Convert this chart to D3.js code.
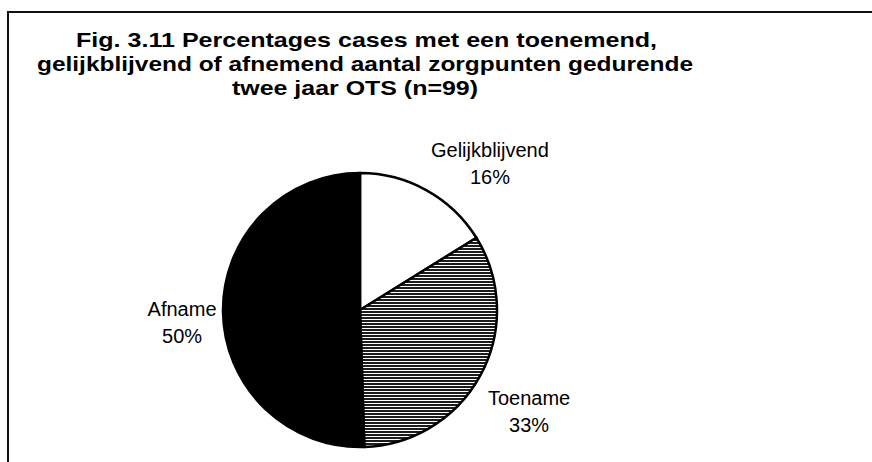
<!DOCTYPE html>
<html>
<head>
<meta charset="utf-8">
<script src="https://cdn.jsdelivr.net/npm/d3@7"></script>
<style>
  html, body { margin: 0; padding: 0; background: white; }
  text { font-family: "Liberation Sans", Arial, Helvetica, sans-serif; }
</style>
</head>
<body>
<div id="chart"></div>
<script>
// data (n = 99)
const categories = ["Gelijkblijvend", "Toename", "Afname"];
const counts = [16, 33, 50];
const pctLabels = ["16%", "33%", "50%"];
const titleLines = [
  "Fig. 3.11 Percentages cases met een toenemend,",
  "gelijkblijvend of afnemend aantal zorgpunten gedurende",
  "twee jaar OTS (n=99)"
];

const w = 872;
const h = 462;
const cx = 360, cy = 310, r = 137;

const svg = d3
  .select("#chart")
  .append("svg")
  .attr("width", w)
  .attr("height", h)
  .style("display", "block")
  .style("background", "white");

// hatched fill for the "Toename" slice
const defs = svg.append("defs");
const pat = defs
  .append("pattern")
  .attr("id", "hatch")
  .attr("patternUnits", "userSpaceOnUse")
  .attr("width", 6)
  .attr("height", 3);
pat.append("rect").attr("width", 6).attr("height", 3).attr("fill", "#fff");
pat.append("rect").attr("y", 1).attr("width", 6).attr("height", 2).attr("fill", "#1c1c1c");

// frame (top and left edge only, as in the scan)
svg.append("line")
  .attr("x1", 7).attr("x2", w).attr("y1", 12).attr("y2", 12)
  .attr("stroke", "#111").attr("stroke-width", 2);
svg.append("line")
  .attr("x1", 8).attr("x2", 8).attr("y1", 12).attr("y2", h)
  .attr("stroke", "#111").attr("stroke-width", 2);

// title - the scanned face is wider than Arial, so stretch each line to its width
const titleX = [76, 37, 232];
const titleW = [581, 656, 246];
svg.append("g")
  .selectAll("text")
  .data(titleLines)
  .join("text")
  .attr("x", (d, i) => titleX[i])
  .attr("y", (d, i) => 47 + i * 24)
  .attr("font-size", 21)
  .attr("font-weight", "bold")
  .attr("textLength", (d, i) => titleW[i])
  .attr("lengthAdjust", "spacingAndGlyphs")
  .attr("fill", "#000")
  .text((d) => d);

// pie
const fills = ["#fff", "url(#hatch)", "#000"];
const pie = d3.pie().sort(null).value((d) => d.value);
const arcs = pie(categories.map((c, i) => ({ name: c, value: counts[i], pct: pctLabels[i] })));
const arc = d3.arc().innerRadius(0).outerRadius(r);
const labelArc = d3.arc().innerRadius(r * 1.35).outerRadius(r * 1.35);

const g = svg.append("g").attr("transform", `translate(${cx},${cy})`);
g.selectAll("path")
  .data(arcs)
  .join("path")
  .attr("d", arc)
  .attr("fill", (d, i) => fills[i])
  .attr("stroke", "#000")
  .attr("stroke-width", 2.5)
  .attr("stroke-linejoin", "round");

// labels: centroid on an outer ring, nudged like the Excel placement
const nudge = [[40, 9], [6, 8], [7, 3]];
const lab = g.selectAll("g.lab")
  .data(arcs)
  .join("g")
  .attr("class", "lab")
  .attr("transform", (d, i) => {
    const c = labelArc.centroid(d);
    return `translate(${c[0] + nudge[i][0]},${c[1] + nudge[i][1]})`;
  });
lab.append("text")
  .attr("text-anchor", "middle")
  .attr("font-size", 20)
  .attr("fill", "#000")
  .text((d) => d.data.name);
lab.append("text")
  .attr("text-anchor", "middle")
  .attr("y", 27)
  .attr("font-size", 20)
  .attr("fill", "#000")
  .text((d) => d.data.pct);
</script>
</body>
</html>
